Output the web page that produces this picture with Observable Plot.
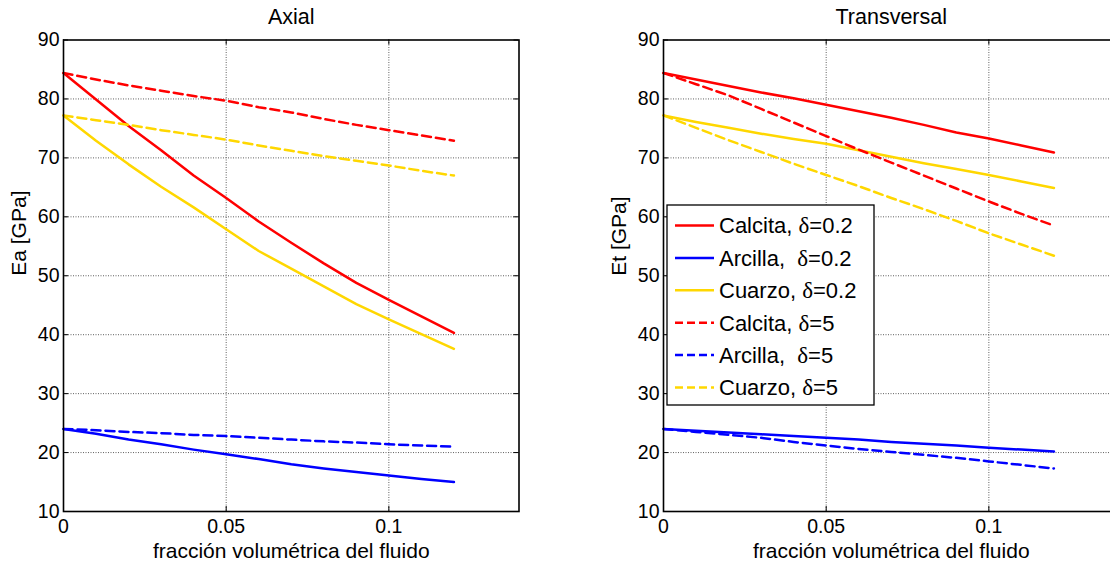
<!DOCTYPE html>
<html>
<head>
<meta charset="utf-8">
<script src="https://cdn.jsdelivr.net/npm/d3@7"></script>
<script src="https://cdn.jsdelivr.net/npm/@observablehq/plot@0.6"></script>
<style>
  body { margin: 0; background: #fff; }
  #wrap { position: relative; width: 1110px; height: 564px; overflow: hidden; background: #fff; }
  .panel { position: absolute; top: 0; }
  #legend { position: absolute; left: 0; top: 0; }
  svg text { white-space: pre; }
</style>
</head>
<body>
<div id="wrap"></div>
<script>
// ---------- data ----------
const fraction = [0, 0.01, 0.02, 0.03, 0.04, 0.05, 0.06, 0.07, 0.08, 0.09, 0.10, 0.11, 0.12];
const xTicks = [0, 0.05, 0.1];
const yTicks = [10, 20, 30, 40, 50, 60, 70, 80, 90];

const seriesLabels = ["Calcita, δ=0.2", "Arcilla,  δ=0.2", "Cuarzo, δ=0.2", "Calcita, δ=5", "Arcilla,  δ=5", "Cuarzo, δ=5"];
const seriesColors = ["#ff0000", "#0000ff", "#ffd700", "#ff0000", "#0000ff", "#ffd700"];
const seriesDashed = [false, false, false, true, true, true];

// Axial (Ea)
const axialCalcita02 = [84.4, 79.9, 75.4, 71.3, 67.0, 63.2, 59.2, 55.6, 52.1, 48.8, 45.9, 43.1, 40.3];
const axialArcilla02 = [24.0, 23.2, 22.2, 21.4, 20.5, 19.7, 18.9, 18.0, 17.3, 16.7, 16.1, 15.5, 15.0];
const axialCuarzo02  = [77.2, 72.9, 68.9, 65.1, 61.6, 57.9, 54.2, 51.2, 48.2, 45.2, 42.6, 40.1, 37.6];
const axialCalcita5  = [84.4, 83.3, 82.3, 81.4, 80.5, 79.7, 78.6, 77.7, 76.6, 75.6, 74.7, 73.8, 72.9];
const axialArcilla5  = [24.0, 23.8, 23.5, 23.3, 23.0, 22.8, 22.5, 22.2, 21.9, 21.7, 21.4, 21.2, 21.0];
const axialCuarzo5   = [77.2, 76.4, 75.6, 74.7, 73.9, 73.1, 72.1, 71.2, 70.3, 69.5, 68.7, 67.8, 67.0];

// Transversal (Et)
const transCalcita02 = [84.4, 83.3, 82.2, 81.1, 80.1, 79.0, 77.9, 76.8, 75.6, 74.3, 73.3, 72.1, 70.9];
const transArcilla02 = [24.0, 23.7, 23.4, 23.1, 22.8, 22.5, 22.2, 21.8, 21.5, 21.2, 20.8, 20.5, 20.2];
const transCuarzo02  = [77.2, 76.1, 75.1, 74.1, 73.2, 72.4, 71.3, 70.2, 69.1, 68.1, 67.1, 66.0, 64.9];
const transCalcita5  = [84.4, 82.5, 80.6, 78.3, 76.0, 73.7, 71.4, 69.2, 67.0, 64.8, 62.6, 60.5, 58.5];
const transArcilla5  = [24.0, 23.5, 23.0, 22.5, 21.8, 21.2, 20.6, 20.1, 19.6, 19.1, 18.5, 17.9, 17.3];
const transCuarzo5   = [77.2, 75.1, 73.0, 71.0, 69.0, 67.1, 65.2, 63.2, 61.3, 59.3, 57.2, 55.3, 53.4];

// ---------- layout ----------
const FONT = '"Liberation Sans", Arial, Helvetica, sans-serif';
const SERIF = '"Liberation Serif", "DejaVu Serif", serif';
const W = 530, H = 564, ML = 63, MR = 11.5, MT = 39.5, MB = 53;
const frameW = W - ML - MR, frameH = H - MT - MB;

function panel(title, ylabel, series) {
  const rows = [];
  series.forEach((vals, s) => vals.forEach((v, i) => rows.push({x: fraction[i], y: v, s})));
  const lines = series.map((_, s) => Plot.line(rows.filter(r => r.s === s), {
    x: "x", y: "y", stroke: seriesColors[s], strokeWidth: 2.5,
    strokeDasharray: seriesDashed[s] ? "9,5" : null, curve: "linear"
  }));
  const gridStyle = {stroke: "#606060", strokeOpacity: 1, strokeWidth: 1, strokeDasharray: "1,1.5"};
  return Plot.plot({
    width: W, height: H,
    marginLeft: ML, marginRight: MR, marginTop: MT, marginBottom: MB,
    style: {fontFamily: FONT, fontSize: "19.5px", color: "#000", background: "transparent", overflow: "visible"},
    x: {domain: [0, 0.14]},
    y: {domain: [10, 90]},
    marks: [
      Plot.gridX(xTicks.slice(1), gridStyle),
      Plot.gridY(yTicks.slice(1, -1), gridStyle),
      ...lines,
      // inward ticks on all four sides
      Plot.tickX(xTicks, {x: d => d, stroke: "#000", insetTop: frameH - 5}),
      Plot.tickX(xTicks, {x: d => d, stroke: "#000", insetBottom: frameH - 5}),
      Plot.tickY(yTicks, {y: d => d, stroke: "#000", insetRight: frameW - 5}),
      Plot.tickY(yTicks, {y: d => d, stroke: "#000", insetLeft: frameW - 5}),
      Plot.frame({stroke: "#000", strokeWidth: 1.6}),
      Plot.axisX(xTicks, {anchor: "bottom", tickSize: 0, tickPadding: 8, tickFormat: d => String(d), label: null, fontSize: 19.5}),
      Plot.axisY(yTicks, {anchor: "left", tickSize: 0, tickPadding: 4, tickFormat: d => String(d), label: null, fontSize: 19.5}),
      Plot.text([title], {text: d => d, frameAnchor: "top", dy: -16, lineAnchor: "bottom", fontSize: 21.5}),
      Plot.text([ylabel], {text: d => d, frameAnchor: "left", dx: -44.5, rotate: -90, lineAnchor: "middle", fontSize: 21}),
      Plot.text(["fracción volumétrica del fluido"], {text: d => d, frameAnchor: "bottom", dy: 46, lineAnchor: "bottom", fontSize: 21})
    ]
  });
}

const wrap = document.getElementById("wrap");

const left = panel("Axial", "Ea [GPa]", [axialCalcita02, axialArcilla02, axialCuarzo02, axialCalcita5, axialArcilla5, axialCuarzo5]);
left.classList.add("panel");
left.style.left = "0px";
wrap.appendChild(left);

const right = panel("Transversal", "Et [GPa]", [transCalcita02, transArcilla02, transCuarzo02, transCalcita5, transArcilla5, transCuarzo5]);
right.classList.add("panel");
right.style.left = "600px";
wrap.appendChild(right);

// ---------- legend (inside right panel) ----------
const legend = d3.select(wrap).append("svg")
  .attr("id", "legend")
  .attr("width", 1110).attr("height", 564)
  .style("pointer-events", "none");
const lx = 667, ly = 205, lw = 207, lh = 200, rowH = 32.4, row0 = 20.5;
legend.append("rect").attr("x", lx).attr("y", ly).attr("width", lw).attr("height", lh)
  .attr("fill", "#fff").attr("stroke", "#000").attr("stroke-width", 1.3);
seriesLabels.forEach((lab, i) => {
  const cy = ly + row0 + i * rowH;
  legend.append("line").attr("x1", lx + 8).attr("x2", lx + 47).attr("y1", cy).attr("y2", cy)
    .attr("stroke", seriesColors[i]).attr("stroke-width", 2.5)
    .attr("stroke-dasharray", seriesDashed[i] ? "8,4" : null);
  const [before, after] = lab.split("δ");
  const t = legend.append("text").attr("x", lx + 52).attr("y", cy).attr("dy", "0.36em")
    .attr("font-family", FONT).attr("font-size", 22).attr("fill", "#000")
    .attr("xml:space", "preserve").style("white-space", "pre");
  t.append("tspan").text(before);
  t.append("tspan").attr("font-family", SERIF).attr("font-size", 23).text("δ");
  t.append("tspan").text(after);
});
</script>
</body>
</html>
